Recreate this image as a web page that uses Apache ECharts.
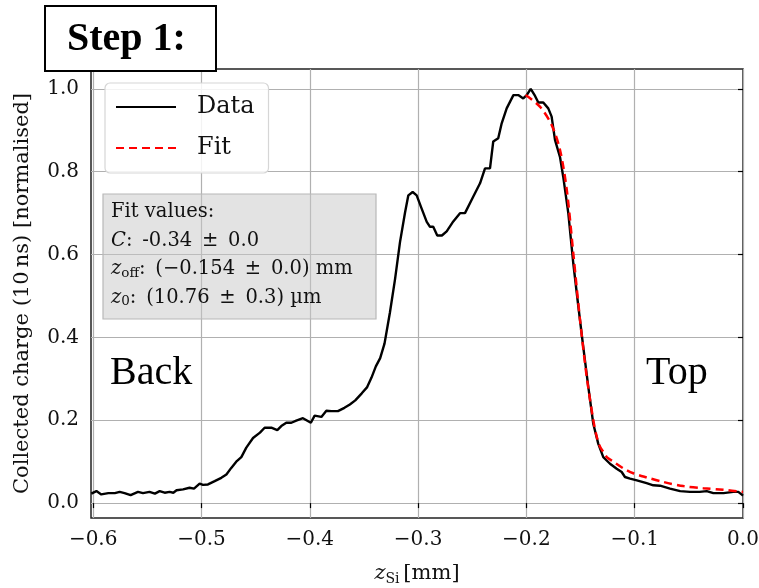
<!DOCTYPE html>
<html>
<head>
<meta charset="utf-8">
<script src="https://cdn.jsdelivr.net/npm/echarts@6/dist/echarts.min.js"></script>
<style>html,body{margin:0;padding:0;background:#fff}#c{width:759px;height:588px}</style>
</head>
<body>
<div id="c"></div>
<script>
// ---- data ----
const dataZ = [-0.6017,-0.597,-0.5925,-0.586,-0.58,-0.5755,-0.571,-0.5654,-0.5586,-0.554,-0.548,-0.543,-0.5386,-0.534,-0.5294,-0.526,-0.523,-0.517,-0.511,-0.5069,-0.5017,-0.4986,-0.494,-0.4878,-0.4817,-0.477,-0.4725,-0.4679,-0.4632,-0.4586,-0.4524,-0.446,-0.4417,-0.4355,-0.43,-0.4263,-0.4217,-0.417,-0.4125,-0.4063,-0.399,-0.3955,-0.3893,-0.3847,-0.38,-0.374,-0.368,-0.363,-0.358,-0.352,-0.347,-0.343,-0.339,-0.335,-0.331,-0.328,-0.326,-0.3213,-0.3167,-0.312,-0.309,-0.305,-0.3013,-0.2967,-0.292,-0.289,-0.286,-0.2823,-0.278,-0.2736,-0.2675,-0.2613,-0.2567,-0.249,-0.2428,-0.2382,-0.2336,-0.2306,-0.226,-0.2228,-0.2182,-0.212,-0.2075,-0.2029,-0.1997,-0.196,-0.192,-0.189,-0.1844,-0.1798,-0.1767,-0.1736,-0.169,-0.166,-0.1613,-0.1567,-0.152,-0.1475,-0.1428,-0.1382,-0.1336,-0.129,-0.1228,-0.1166,-0.112,-0.109,-0.1043,-0.098,-0.089,-0.0828,-0.0766,-0.0674,-0.058,-0.049,-0.04,-0.0335,-0.0274,-0.018,-0.009,-0.0043,0.0];
const dataQ = [0.023,0.029,0.021,0.024,0.024,0.027,0.024,0.019,0.027,0.024,0.027,0.023,0.029,0.025,0.027,0.025,0.031,0.033,0.037,0.035,0.047,0.044,0.045,0.053,0.061,0.069,0.085,0.100,0.111,0.134,0.157,0.170,0.182,0.182,0.176,0.186,0.194,0.194,0.199,0.205,0.194,0.211,0.208,0.223,0.222,0.222,0.230,0.238,0.248,0.265,0.280,0.303,0.330,0.350,0.385,0.430,0.460,0.540,0.630,0.702,0.743,0.751,0.743,0.711,0.679,0.667,0.667,0.646,0.646,0.656,0.680,0.700,0.700,0.740,0.772,0.808,0.808,0.873,0.881,0.917,0.953,0.985,0.985,0.977,0.985,1.000,0.983,0.967,0.967,0.953,0.933,0.877,0.836,0.788,0.700,0.579,0.474,0.377,0.280,0.191,0.143,0.111,0.095,0.083,0.075,0.063,0.059,0.055,0.048,0.043,0.042,0.035,0.029,0.027,0.027,0.029,0.024,0.024,0.027,0.027,0.018];
const fitZ = [-0.2007,-0.1875,-0.1767,-0.169,-0.1627,-0.1567,-0.1505,-0.1443,-0.1382,-0.135,-0.132,-0.129,-0.1258,-0.1197,-0.1105,-0.1013,-0.089,-0.0736,-0.055,-0.0367,-0.018,0.0];
const fitQ = [0.985,0.957,0.913,0.853,0.756,0.603,0.443,0.305,0.200,0.160,0.136,0.124,0.111,0.100,0.084,0.072,0.062,0.051,0.041,0.036,0.032,0.027];
const xTicks = [-0.6,-0.5,-0.4,-0.3,-0.2,-0.1,0.0];
const yTicks = [0.0,0.2,0.4,0.6,0.8,1.0];
const seriesNames = ['Data','Fit'];

const serif = 'Liberation Serif';
const cm = 'DejaVu Serif';
const chart = echarts.init(document.getElementById('c'), null, {renderer:'canvas'});
const fmt = v => (v < 0 ? '\u2212' : '') + Math.abs(v).toFixed(1);
const sp = '\u2002';
chart.setOption({
  animation:false,
  backgroundColor:'#fff',
  textStyle:{fontFamily:cm},
  grid:{left:91,right:16,top:69,bottom:70,show:true,borderColor:'#222',borderWidth:1.5,backgroundColor:'transparent',
        containLabel:false,outerBoundsMode:'none'},
  legend:{
    data:seriesNames, orient:'vertical', left:105, top:83,
    padding:[9,14,10,10], itemGap:11, itemWidth:60, itemHeight:22,
    backgroundColor:'rgba(255,255,255,0.85)', borderColor:'#d6d6d6', borderWidth:1.2, borderRadius:5,
    itemStyle:{opacity:0},
    textStyle:{fontFamily:cm,fontSize:24,lineHeight:30,color:'#111',padding:[0,0,0,16]}
  },
  xAxis:{
    type:'value', min:-0.602, max:0.0,
    name:'{i|z}{s|Si} {n|[mm]}', nameLocation:'middle', nameGap:44,
    nameTextStyle:{rich:{i:{fontFamily:cm,fontStyle:'italic',fontSize:21,color:'#111'},s:{fontFamily:cm,fontSize:14,color:'#111',padding:[10,0,0,0]},n:{fontFamily:cm,fontSize:21,color:'#111'}}},
    axisLine:{show:false},
    axisTick:{show:true,length:5,lineStyle:{color:'#000',width:1.2},customValues:xTicks},
    axisLabel:{customValues:xTicks,formatter:fmt,fontFamily:cm,fontSize:20,color:'#111',margin:12},
    splitLine:{show:true,lineStyle:{color:'#b0b0b0',width:1.2}}
  },
  yAxis:{
    type:'value', min:-0.036, max:1.048,
    name:'Collected charge (10\u2009ns) [normalised]', nameLocation:'middle', nameGap:58,
    nameTextStyle:{fontFamily:cm,fontSize:21,color:'#111'},
    axisLine:{show:false},
    axisTick:{show:true,length:5,lineStyle:{color:'#000',width:1.2},customValues:yTicks},
    axisLabel:{customValues:yTicks,formatter:fmt,fontFamily:cm,fontSize:20,color:'#111',margin:12},
    splitLine:{show:true,lineStyle:{color:'#b0b0b0',width:1.2}}
  },
  series:[
    {name:seriesNames[0],type:'line',data:dataZ.map((z,i)=>[z,dataQ[i]]),showSymbol:false,symbol:'none',
     lineStyle:{color:'#000',width:2.4},itemStyle:{color:'#000'},z:3},
    {name:seriesNames[1],type:'line',data:fitZ.map((z,i)=>[z,fitQ[i]]),showSymbol:false,symbol:'none',smooth:0.3,
     lineStyle:{color:'#ff0000',width:2.5,type:[8,5]},itemStyle:{color:'#ff0000'},z:4}
  ],
  graphic:[
    {type:'rect',shape:{x:103,y:194,width:273,height:125},style:{fill:'rgba(200,200,200,0.5)',stroke:'#b8b8b8',lineWidth:1.2},z:5},
    {type:'text',x:111,y:198,z:6,style:{
      text:'Fit values:\n{i|C}:'+sp+'-0.34'+sp+'\u00b1'+sp+'0.0\n{i|z}{s|off}:'+sp+'(\u22120.154'+sp+'\u00b1'+sp+'0.0) mm\n{i|z}{s|0}:'+sp+'(10.76'+sp+'\u00b1'+sp+'0.3) \u00b5m',
      font:'19.5px "DejaVu Serif"', fill:'#111', lineHeight:28.5,
      rich:{i:{fontFamily:cm,fontStyle:'italic',fontSize:19.5,fill:'#111',lineHeight:28.5},
            s:{fontFamily:cm,fontSize:13.5,fill:'#111',lineHeight:28.5,padding:[8,0,0,0]}}
    }},
    {type:'text',x:110,y:373,z:6,style:{text:'Back',font:'40px "Liberation Serif"',fill:'#000',verticalAlign:'middle'}},
    {type:'text',x:646,y:373,z:6,style:{text:'Top',font:'40px "Liberation Serif"',fill:'#000',verticalAlign:'middle'}},
    {type:'rect',shape:{x:45,y:6,width:171,height:65},style:{fill:'#fff',stroke:'#000',lineWidth:2},z:10},
    {type:'text',x:67,y:40,z:11,style:{text:'Step 1:',font:'bold 40px "Liberation Serif"',fill:'#000',verticalAlign:'middle'}}
  ]
});
</script>
</body>
</html>
